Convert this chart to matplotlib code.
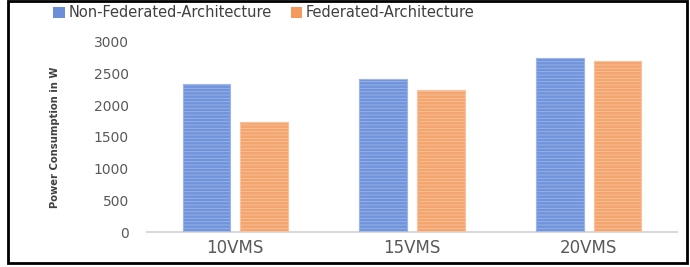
import numpy as np
import matplotlib.pyplot as plt
from matplotlib.patches import Rectangle, Patch

categories = ["10VMS", "15VMS", "20VMS"]
non_federated = [2340, 2410, 2750]
federated = [1740, 2240, 2700]
yticks = [0, 500, 1000, 1500, 2000, 2500, 3000]

blue = "#7094dc"
blue_stripe = "#9db5e8"
orange = "#f4a46e"
orange_stripe = "#f8c39c"

plt.rcParams['hatch.linewidth'] = 0.6

fig = plt.figure(figsize=(6.9, 2.67), dpi=100)
ax = fig.add_axes([0.213, 0.131, 0.768, 0.712])

x = np.arange(len(categories))
w = 0.27
gap = 0.028

for vals, off, col, stripe in [(non_federated, -(w / 2 + gap), blue, blue_stripe),
                               (federated, (w / 2 + gap), orange, orange_stripe)]:
    ax.bar(x + off, vals, w, color=col, edgecolor="none", zorder=2)
    ax.bar(x + off, vals, w, facecolor="none", edgecolor=stripe, hatch="-----",
           linewidth=0.8, zorder=3)

ax.set_xlim(-0.5, 2.5)
ax.set_ylim(0, 3000)
ax.set_yticks(yticks)
ax.set_yticklabels([str(v) for v in yticks], fontsize=10, color="#595959")
ax.set_xticks(x)
ax.set_xticklabels(categories, fontsize=12, color="#595959")
ax.tick_params(axis="both", length=0)
ax.tick_params(axis="y", pad=13)
ax.tick_params(axis="x", pad=5)

for s in ["top", "right", "left"]:
    ax.spines[s].set_visible(False)
ax.spines["bottom"].set_color("#d9d9d9")
ax.spines["bottom"].set_linewidth(1.5)

ax.set_ylabel("Power Consumption in W", fontsize=8, fontweight="bold",
              fontstretch="condensed", family="DejaVu Sans", color="#404040")
ax.yaxis.set_label_coords(-0.164, 0.5)

handles = [Patch(facecolor="#6a8fd8", edgecolor="none"),
           Patch(facecolor="#f39a5c", edgecolor="none")]
fig.legend(handles, ["Non-Federated-Architecture", "Federated-Architecture"],
           loc="center left", bbox_to_anchor=(0.058, 0.952), ncol=2, frameon=False,
           fontsize=10.5, labelcolor="#404040", handlelength=0.8, handleheight=0.8,
           handletextpad=0.25, columnspacing=1.3)

fig.patches.append(Rectangle((0.012, 0.015), 0.983, 0.98, transform=fig.transFigure,
                             fill=False, edgecolor="black", linewidth=2))

fig.savefig("out.png", dpi=100)
